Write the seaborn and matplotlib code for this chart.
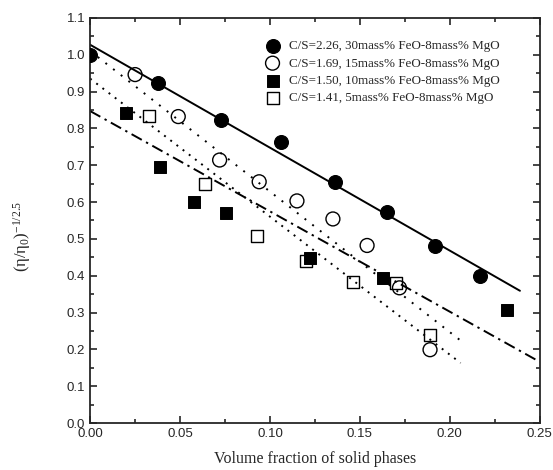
import numpy as np
import pandas as pd
import matplotlib
matplotlib.use("Agg")
import matplotlib.pyplot as plt
import seaborn as sns
from matplotlib.ticker import MultipleLocator

sns.set_style("ticks")
plt.rcParams["font.family"] = ["Liberation Sans", "DejaVu Sans"]
plt.rcParams["mathtext.fontset"] = "custom"
plt.rcParams["mathtext.rm"] = "Liberation Serif"
plt.rcParams["mathtext.default"] = "rm"

labels = ["C/S=2.26, 30mass% FeO-8mass% MgO",
          "C/S=1.69, 15mass% FeO-8mass% MgO",
          "C/S=1.50, 10mass% FeO-8mass% MgO",
          "C/S=1.41, 5mass% FeO-8mass% MgO"]

x_226 = [0.000, 0.038, 0.073, 0.106, 0.136, 0.165, 0.192, 0.217]
y_226 = [1.000, 0.924, 0.824, 0.764, 0.653, 0.574, 0.481, 0.398]

x_169 = [0.025, 0.049, 0.072, 0.094, 0.115, 0.135, 0.154, 0.172, 0.189]
y_169 = [0.946, 0.832, 0.714, 0.655, 0.603, 0.554, 0.482, 0.367, 0.199]

x_150 = [0.020, 0.039, 0.058, 0.0755, 0.1225, 0.163, 0.232]
y_150 = [0.842, 0.696, 0.599, 0.570, 0.448, 0.394, 0.308]

x_141 = [0.033, 0.064, 0.093, 0.120, 0.146, 0.170, 0.189]
y_141 = [0.834, 0.649, 0.507, 0.441, 0.383, 0.380, 0.239]

# fitted lines (end points)
fit_226_x = [0.000, 0.239]
fit_226_y = [1.027, 0.359]
fit_169_x = [0.000, 0.207]
fit_169_y = [1.010, 0.220]
fit_141_x = [0.000, 0.206]
fit_141_y = [0.935, 0.163]
fit_150_x = [0.000, 0.250]
fit_150_y = [0.847, 0.166]

fig = plt.figure(figsize=(5.53, 4.70), dpi=100)
ax = fig.add_axes([0.163, 0.1, 0.813, 0.862])

sns.lineplot(x=fit_226_x, y=fit_226_y, ax=ax, color="black", lw=1.4, legend=False)
sns.lineplot(x=fit_169_x, y=fit_169_y, ax=ax, color="black", lw=1.4, legend=False,
             linestyle=(0, (1, 4)))
sns.lineplot(x=fit_141_x, y=fit_141_y, ax=ax, color="black", lw=1.4, legend=False,
             linestyle=(0, (1, 3)))
sns.lineplot(x=fit_150_x, y=fit_150_y, ax=ax, color="black", lw=1.4, legend=False,
             linestyle=(0, (6, 2.5, 1.2, 2.5)))

sns.scatterplot(x=x_226, y=y_226, ax=ax, marker="o", s=100, color="black",
                edgecolor="black", label=labels[0], zorder=5)
sns.scatterplot(x=x_169, y=y_169, ax=ax, marker="o", s=100, facecolor="none",
                edgecolor="black", linewidth=1.0, label=labels[1], zorder=5)
sns.scatterplot(x=x_150, y=y_150, ax=ax, marker="s", s=75, color="black",
                edgecolor="black", label=labels[2], zorder=5)
sns.scatterplot(x=x_141, y=y_141, ax=ax, marker="s", s=75, facecolor="none",
                edgecolor="black", linewidth=1.0, label=labels[3], zorder=5)

ax.set_xlim(0, 0.25)
ax.set_ylim(0, 1.1)
ax.xaxis.set_major_locator(MultipleLocator(0.05))
ax.xaxis.set_minor_locator(MultipleLocator(0.025))
ax.yaxis.set_major_locator(MultipleLocator(0.1))
ax.yaxis.set_minor_locator(MultipleLocator(0.05))
ax.set_xticklabels([f"{v:.2f}" for v in ax.get_xticks()])
ax.set_yticklabels([f"{v:.1f}" for v in ax.get_yticks()])
ax.tick_params(which="both", direction="in", top=True, right=True, width=1.2, labelsize=9.5)
ax.tick_params(which="major", length=5)
ax.tick_params(which="minor", length=3)
for sp in ax.spines.values():
    sp.set_linewidth(1.3)

serif = ["Liberation Serif", "DejaVu Serif"]
ax.set_xlabel("Volume fraction of solid phases", family=serif, fontsize=11.5, labelpad=8)
ax.set_ylabel("(η/η$_0$)$^{-1/2.5}$", family=serif, fontsize=12)
ax.yaxis.set_label_coords(-0.128, 0.46)

leg = ax.legend(loc="upper left", bbox_to_anchor=(0.365, 0.958), frameon=False,
                prop={"family": serif, "size": 9.4}, handletextpad=0.25,
                labelspacing=0.4, borderaxespad=0)

fig.savefig("out.png", dpi=100)
